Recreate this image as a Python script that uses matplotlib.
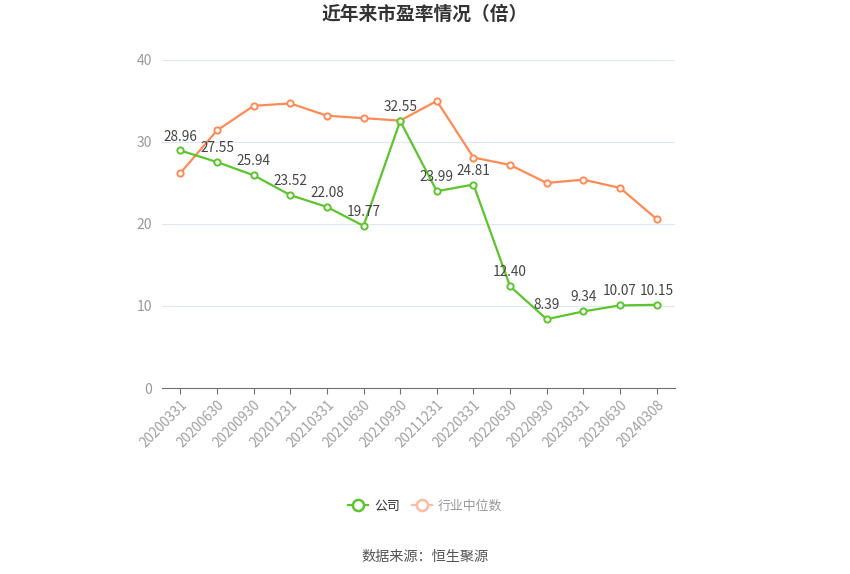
import numpy as np
import matplotlib.pyplot as plt
from matplotlib.lines import Line2D

plt.rcParams['font.family'] = ['Noto Sans CJK SC', 'DejaVu Sans']

# data
dates = ['20200331', '20200630', '20200930', '20201231', '20210331', '20210630', '20210930',
         '20211231', '20220331', '20220630', '20220930', '20230331', '20230630', '20240308']
company = [28.96, 27.55, 25.94, 23.52, 22.08, 19.77, 32.55, 23.99, 24.81, 12.40, 8.39, 9.34, 10.07, 10.15]
industry = [26.2, 31.4, 34.4, 34.7, 33.2, 32.9, 32.6, 35.0, 28.1, 27.2, 25.0, 25.4, 24.4, 20.6]

green = '#5cc42d'
orange = '#ff8a55'

fig = plt.figure(figsize=(8.5, 5.74), dpi=100)
ax = fig.add_axes([0.1906, 0.324, 0.6035, 0.5716])

x = np.arange(len(dates))
ax.plot(x, industry, color=orange, lw=1.6, marker='o', ms=4.5, mfc='white', mec=orange, mew=1.4, zorder=3)
ax.plot(x, company, color=green, lw=1.6, marker='o', ms=4.5, mfc='white', mec=green, mew=1.4, zorder=4)

for xi, v in zip(x, company):
    ax.annotate(f'{v:.2f}', (xi, v), xytext=(0, 5), textcoords='offset points',
                ha='center', va='bottom', fontsize=9.8, color='#444444', zorder=5)

ax.set_xlim(-0.5, len(dates) - 0.5)
ax.set_ylim(0, 40)
ax.set_yticks([0, 10, 20, 30, 40])
ax.set_xticks(x)
ax.set_xticklabels(dates, rotation=45, ha='right', rotation_mode='anchor')
ax.tick_params(axis='x', colors='#6e7079', length=4, labelcolor='#a0a0a0', labelsize=9.8, pad=3)
ax.tick_params(axis='y', length=0, labelcolor='#999999', labelsize=10, pad=7)

ax.grid(axis='y', color='#e0e6f1', lw=0.8)
ax.set_axisbelow(True)
for s in ['top', 'right', 'left']:
    ax.spines[s].set_visible(False)
ax.spines['bottom'].set_color('#6e7079')

fig.text(0.5, 1 - 14 / 574, '近年来市盈率情况（倍）', ha='center', va='center',
         fontsize=13.5, fontweight='bold', color='#333333')

handles = [
    Line2D([], [], color=green, lw=1.6, marker='o', ms=8, mfc='white', mec=green, mew=1.8),
    Line2D([], [], color='#ffbca3', lw=1.6, marker='o', ms=8, mfc='white', mec='#ffbca3', mew=1.8),
]
leg = fig.legend(handles, ['公司', '行业中位数'], loc='center', bbox_to_anchor=(0.5, 1 - 506 / 574),
                 ncol=2, frameon=False, fontsize=9.3, handlelength=1.6, columnspacing=0.9, handletextpad=0.45)
leg.get_texts()[0].set_color('#333333')
leg.get_texts()[1].set_color('#999999')

fig.text(0.5, 1 - 557 / 574, '数据来源：恒生聚源', ha='center', va='center', fontsize=10.2, color='#555555')

fig.savefig('out.png', dpi=100)
